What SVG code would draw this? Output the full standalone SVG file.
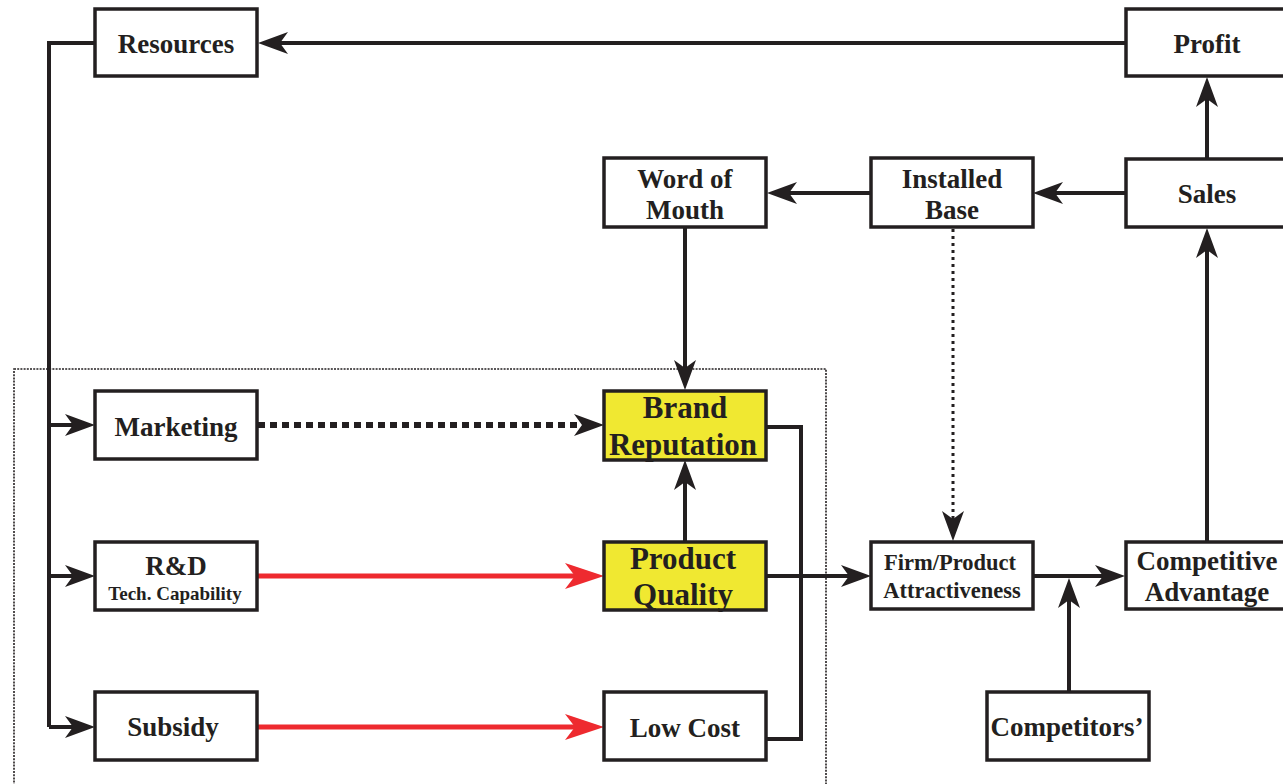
<svg xmlns="http://www.w3.org/2000/svg" width="1283" height="784" viewBox="0 0 1283 784">
  <style>
    .box { fill: #ffffff; stroke: #231f20; stroke-width: 3.5; }
    .hl { fill: #f0e831; stroke: #231f20; stroke-width: 3.5; }
    .lbl { font-family: "Liberation Serif", "Times New Roman", serif; font-weight: bold; fill: #231f20; text-anchor: middle; }
    .big { font-size: 27px; }
    .huge { font-size: 31px; }
    .mid { font-size: 22.5px; }
    .small { font-size: 19px; }
    .wire { fill: none; stroke: #231f20; stroke-width: 4; }
    .arr { marker-end: url(#head); }
    .red { fill: none; stroke: #ee2a2f; stroke-width: 5; marker-end: url(#redhead); }
    .dash { fill: none; stroke: #231f20; stroke-width: 6; stroke-dasharray: 7 5; marker-end: url(#head); }
    .dots { fill: none; stroke: #231f20; stroke-width: 3; stroke-dasharray: 3 4; marker-end: url(#head); }
    .frame { fill: none; stroke: #231f20; stroke-width: 1.6; stroke-dasharray: 2 1.2; }
  </style>
  <defs>
    <!-- notched arrowhead; reference point sits at the notch, tip 22 px ahead -->
    <marker id="head" markerUnits="userSpaceOnUse" viewBox="-10 -12 34 24" refX="0" refY="0" markerWidth="34" markerHeight="24" orient="auto" overflow="visible">
      <path d="M22,0 L-8,-11 L0,0 L-8,11 Z" fill="#231f20"/>
    </marker>
    <marker id="redhead" markerUnits="userSpaceOnUse" viewBox="-12 -14 44 28" refX="0" refY="0" markerWidth="44" markerHeight="28" orient="auto" overflow="visible">
      <path d="M29,0 L-10,-13 L0,0 L-10,13 Z" fill="#ee2a2f"/>
    </marker>
  </defs>

  <!-- dotted boundary round the firm's internal levers -->
  <rect class="frame" x="14" y="369" width="812" height="430"/>

  <g id="connectors">
    <!-- profit feeds back to resources -->
    <path class="wire arr" d="M1126,43 H280"/>
    <!-- resources distributed to the three levers -->
    <path class="wire" d="M95,43 H49 V727"/>
    <path class="wire arr" d="M49,425 H73"/>
    <path class="wire arr" d="M49,576 H73"/>
    <path class="wire arr" d="M49,727 H73"/>
    <!-- sales chain -->
    <path class="wire arr" d="M1207,160 V99"/>
    <path class="wire arr" d="M1126,193 H1055"/>
    <path class="wire arr" d="M870,193 H789"/>
    <path class="wire arr" d="M685,227 V368"/>
    <path class="dots" d="M953,229 V519"/>
    <!-- levers -->
    <path class="dash" d="M258,425 H582"/>
    <path class="red" d="M258,576 H575"/>
    <path class="red" d="M258,727 H575"/>
    <path class="wire arr" d="M685,541 V482"/>
    <!-- brand and cost merge into the quality line -->
    <path class="wire" d="M767,427 H801 V739 H767"/>
    <path class="wire arr" d="M767,576 H849"/>
    <path class="wire arr" d="M1033,576 H1103"/>
    <path class="wire arr" d="M1069,692 V600"/>
    <path class="wire arr" d="M1207,541 V250"/>
  </g>

  <g id="resources">
    <rect class="box" x="95" y="9" width="162" height="67"/>
    <text class="lbl big" x="176" y="53">Resources</text>
  </g>
  <g id="profit">
    <rect class="box" x="1126" y="9" width="162" height="67"/>
    <text class="lbl big" x="1207" y="53">Profit</text>
  </g>
  <g id="sales">
    <rect class="box" x="1126" y="159" width="162" height="68"/>
    <text class="lbl big" x="1207" y="203">Sales</text>
  </g>
  <g id="word-of-mouth">
    <rect class="box" x="604" y="158" width="162" height="69"/>
    <text class="lbl big" x="685" y="188">Word of</text>
    <text class="lbl big" x="685" y="219">Mouth</text>
  </g>
  <g id="installed-base">
    <rect class="box" x="871" y="158" width="162" height="69"/>
    <text class="lbl big" x="952" y="188">Installed</text>
    <text class="lbl big" x="952" y="219">Base</text>
  </g>
  <g id="marketing">
    <rect class="box" x="95" y="391" width="162" height="68"/>
    <text class="lbl big" x="176" y="436">Marketing</text>
  </g>
  <g id="brand-reputation">
    <rect class="hl" x="604" y="391" width="162" height="69"/>
    <text class="lbl huge" x="685" y="418">Brand</text>
    <text class="lbl huge" x="683" y="455">Reputation</text>
  </g>
  <g id="rnd">
    <rect class="box" x="95" y="542" width="162" height="68"/>
    <text class="lbl big" x="176" y="575">R&amp;D</text>
    <text class="lbl small" x="175" y="600">Tech. Capability</text>
  </g>
  <g id="product-quality">
    <rect class="hl" x="604" y="542" width="162" height="68"/>
    <text class="lbl huge" x="683" y="569">Product</text>
    <text class="lbl huge" x="683" y="605">Quality</text>
  </g>
  <g id="subsidy">
    <rect class="box" x="95" y="692" width="162" height="68"/>
    <text class="lbl big" x="173" y="736">Subsidy</text>
  </g>
  <g id="low-cost">
    <rect class="box" x="604" y="692" width="162" height="68"/>
    <text class="lbl big" x="685" y="737">Low Cost</text>
  </g>
  <g id="attractiveness">
    <rect class="box" x="871" y="542" width="162" height="67"/>
    <text class="lbl mid" x="950" y="570">Firm/Product</text>
    <text class="lbl mid" x="952" y="598">Attractiveness</text>
  </g>
  <g id="competitive-advantage">
    <rect class="box" x="1126" y="542" width="162" height="67"/>
    <text class="lbl big" x="1207" y="570">Competitive</text>
    <text class="lbl big" x="1207" y="601">Advantage</text>
  </g>
  <g id="competitors">
    <rect class="box" x="987" y="692" width="162" height="68"/>
    <text class="lbl big" x="1067" y="736">Competitors’</text>
  </g>
</svg>
